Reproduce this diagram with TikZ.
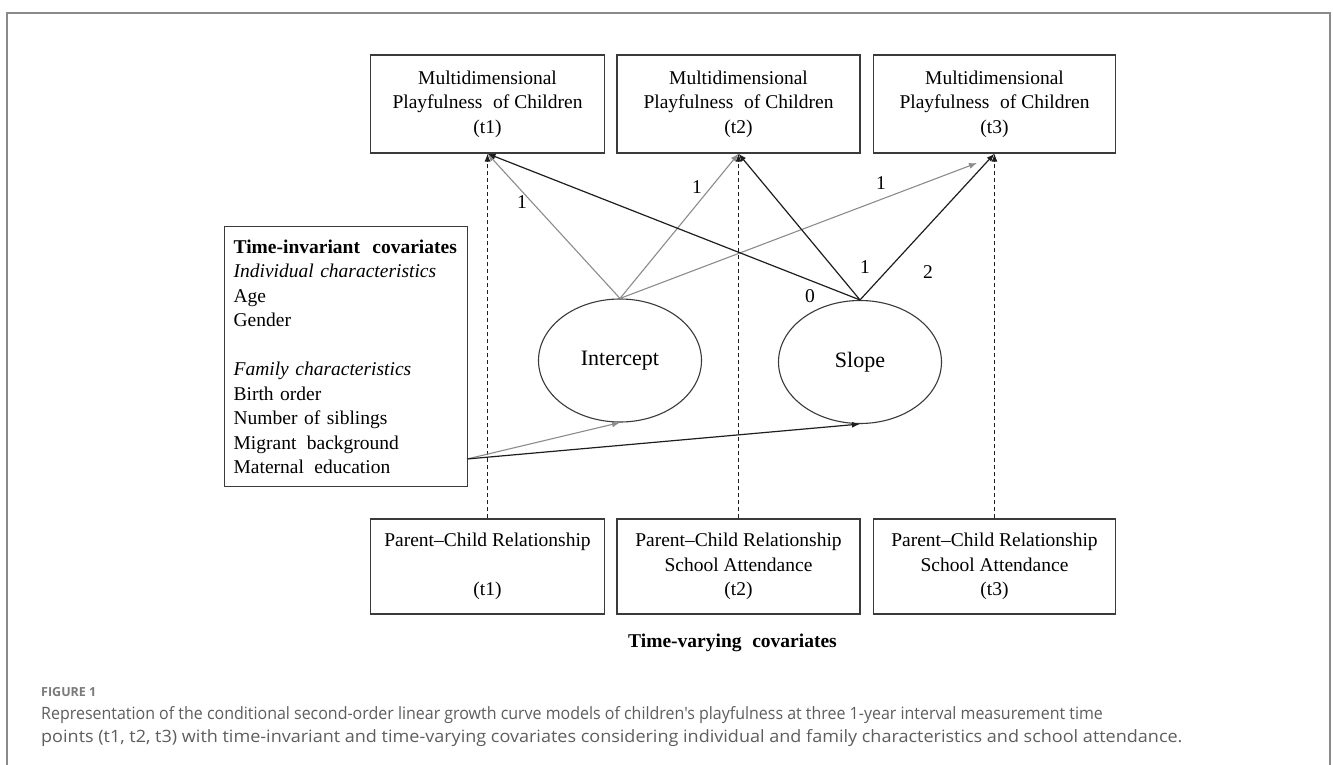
\documentclass[tikz,border=0pt]{standalone}
\usepackage{fontspec}
\setmainfont{Liberation Serif}
\newfontfamily\capfont{Open Sans}
\usetikzlibrary{arrows.meta,shapes.geometric}
\definecolor{boxc}{HTML}{3A3A3A}
\definecolor{grayc}{HTML}{8C8C8C}
\definecolor{blackc}{HTML}{1E1E1E}
\definecolor{framec}{HTML}{8A8A8A}
\definecolor{capc}{HTML}{5E5E5E}
\definecolor{figc}{HTML}{7A7A7A}
\begin{document}
\begin{tikzpicture}[x=1pt,y=-1pt,
  every node/.style={font=\fontsize{19.5}{24.5}\selectfont, text=black},
  topbox/.style={draw=boxc, line width=1.3pt, minimum height=98pt, align=center, inner sep=0pt},
  botbox/.style={draw=boxc, line width=1.3pt, minimum height=95pt, align=center, inner sep=0pt},
  latent/.style={draw=boxc, line width=1.1pt, ellipse, minimum width=163pt, minimum height=123pt, inner sep=0pt, font=\fontsize{22}{26}\selectfont},
  grayarr/.style={draw=grayc, line width=1.1pt, -{Latex[length=8pt,width=6pt]}},
  blackarr/.style={draw=blackc, line width=1.2pt, -{Latex[length=8pt,width=6pt]}},
  dasharr/.style={draw=blackc, line width=1pt, dash pattern=on 4pt off 3pt, -{Latex[length=8pt,width=6pt]}},
  lbl/.style={font=\fontsize{19.5}{24}\selectfont, inner sep=0pt}
]
\useasboundingbox (0,0) rectangle (1333,765);
\fill[white] (0,0) rectangle (1333,765);
\draw[framec, line width=2pt] (7,767) -- (7,13) -- (1330,13) -- (1330,767);

% top boxes
\node[topbox, minimum width=234pt] (t1) at (487.5,104) {Multidimensional\\Playfulness\hspace{0.3em} of Children\\(t1)};
\node[topbox, minimum width=243pt] (t2) at (738.5,104) {Multidimensional\\Playfulness\hspace{0.3em} of Children\\(t2)};
\node[topbox, minimum width=242pt] (t3) at (994.5,104) {Multidimensional\\Playfulness\hspace{0.3em} of Children\\(t3)};

% bottom boxes
\node[botbox, minimum width=234pt] (b1) at (487.5,566.5) {Parent--Child Relationship\\[24.5pt](t1)};
\node[botbox, minimum width=243pt] (b2) at (738.5,566.5) {Parent--Child Relationship\\School Attendance\\(t2)};
\node[botbox, minimum width=242pt] (b3) at (994.5,566.5) {Parent--Child Relationship\\School Attendance\\(t3)};

% left box
\node[draw=boxc, line width=1.3pt, anchor=north west, minimum width=243pt, minimum height=260pt,
      text width=225pt, inner xsep=9pt, inner ysep=0pt, align=left] (cov) at (224,226)
  {\textbf{Time-invariant\hspace{0.3em} covariates}\\
   \textit{Individual characteristics}\\
   Age\\
   Gender\\[24.5pt]
   \textit{Family characteristics}\\
   Birth order\\
   Number of siblings\\
   Migrant\hspace{0.2em} background\\
   Maternal\hspace{0.2em} education};

% latent variables
\node[latent] (int) at (620,360.5) {Intercept};
\node[latent] (slp) at (860,362) {Slope};

% coordinates
\coordinate (cs) at (467,459);
\coordinate (t3g) at (977,163);

% dashed time-varying arrows
\draw[dasharr] (b1.north) -- (t1.south);
\draw[dasharr] (b2.north) -- (t2.south);
\draw[dasharr] (b3.north) -- (t3.south);

% intercept loadings
\draw[grayarr] (int.north) -- (t1.south);
\draw[grayarr] (int.north) -- (t2.south);
\draw[grayarr] (int.north) -- (t3g);

% slope loadings
\draw[blackarr] (slp.north) -- (t1.south);
\draw[blackarr] (slp.north) -- (t2.south);
\draw[blackarr] (slp.north) -- (t3.south);

% covariate arrows
\draw[grayarr] (cs) -- (int.south);
\draw[blackarr] (cs) -- (slp.south);

% loading labels
\node[lbl] (l1) at (522,202) {1};
\node[lbl] (l2) at (697,187) {1};
\node[lbl] (l3) at (881,183) {1};
\node[lbl] (l4) at (810,296) {0};
\node[lbl] (l5) at (865,267) {1};
\node[lbl] (l6) at (928,272) {2};

% time-varying label
\node (tv) at (732.5,643) {\textbf{Time-varying\hspace{0.3em} covariates}};

% caption
\node[anchor=west, inner sep=0pt, text=figc, font=\capfont\bfseries\fontsize{12.5}{15}\selectfont] (fig) at (41,692) {FIGURE 1};
\node[anchor=west, inner sep=0pt, text=capc, font=\capfont\fontsize{17}{22}\selectfont] (cap1) at (41,715)
  {\scalebox{0.94}[1]{Representation of the conditional second-order linear growth curve models of children's playfulness at three 1-year interval measurement time}};
\node[anchor=west, inner sep=0pt, text=capc, font=\capfont\fontsize{17}{22}\selectfont] (cap2) at (41,738)
  {\scalebox{1.06}[1]{points (t1, t2, t3) with time-invariant and time-varying covariates considering individual and family characteristics and school attendance.}};
\end{tikzpicture}
\end{document}
